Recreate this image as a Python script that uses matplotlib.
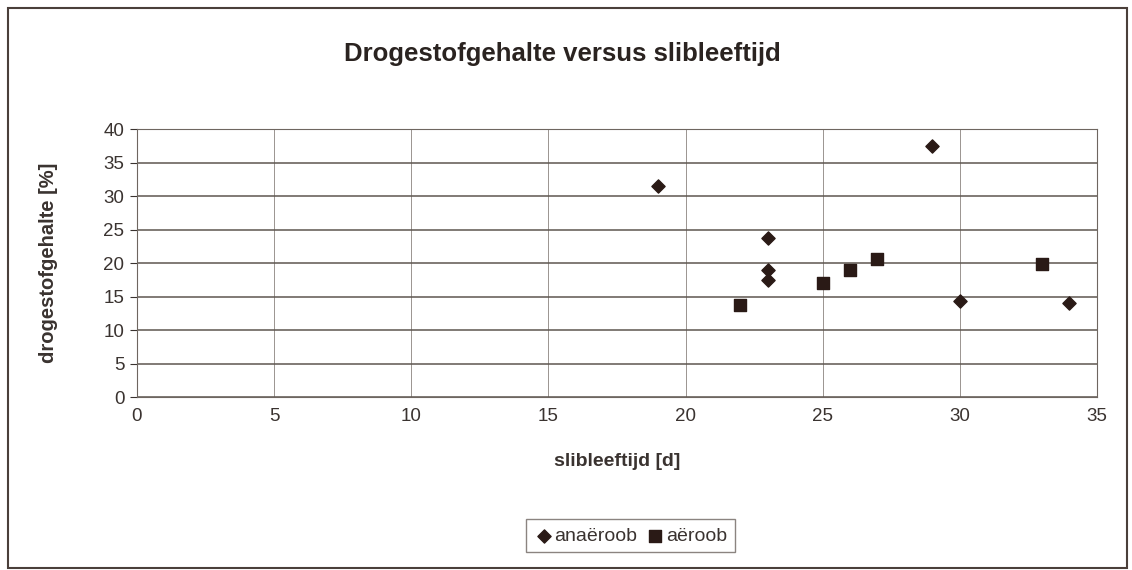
import matplotlib.pyplot as plt
from matplotlib.patches import Rectangle

# slibleeftijd [d] and drogestofgehalte [%]
anaeroob_x = [19, 23, 23, 23, 29, 30, 34]
anaeroob_y = [31.5, 23.7, 19.0, 17.4, 37.5, 14.3, 14.1]
aeroob_x = [22, 25, 26, 27, 33]
aeroob_y = [13.7, 17.0, 18.9, 20.6, 19.9]

x_ticks = list(range(0, 36, 5))
y_ticks = list(range(0, 41, 5))

plt.rcParams['font.family'] = ['Liberation Sans', 'DejaVu Sans']

fig = plt.figure(figsize=(11.32, 5.7), dpi=100)
fig.patch.set_facecolor('white')
fig.patches.append(Rectangle((0.007, 0.004), 0.989, 0.982, transform=fig.transFigure,
                             fill=False, edgecolor='#4a3f3a', linewidth=1.5))

ax = fig.add_axes([0.121, 0.3035, 0.848, 0.47])
ax.scatter(anaeroob_x, anaeroob_y, marker='D', s=45, color='#2a1a16', label='anaëroob', zorder=3)
ax.scatter(aeroob_x, aeroob_y, marker='s', s=80, color='#2a1a16', label='aëroob', zorder=3)

ax.set_xlim(0, 35)
ax.set_ylim(0, 40)
ax.set_xticks(x_ticks)
ax.set_yticks(y_ticks)
ax.grid(True, axis='y', color='#5e5650', linewidth=1.1)
ax.grid(True, axis='x', color='#8a837e', linewidth=0.6)
ax.set_axisbelow(True)
for s in ax.spines.values():
    s.set_color('#6e6660')
ax.tick_params(axis='x', length=0, pad=8, labelsize=13.5, colors='#3a3330')
ax.tick_params(axis='y', length=5, pad=4, labelsize=13.5, colors='#3a3330')

ax.set_xlabel('slibleeftijd [d]', fontsize=14, fontweight='bold', color='#3a3330', labelpad=20)
ax.set_ylabel('drogestofgehalte [%]', fontsize=14.5, fontweight='bold', color='#3a3330', labelpad=33)

fig.text(0.497, 0.905, 'Drogestofgehalte versus slibleeftijd', ha='center', va='center',
         fontsize=18.5, fontweight='bold', color='#2a2320')

leg = fig.legend(loc='center', bbox_to_anchor=(0.557, 0.06), ncol=2, fontsize=14,
                 frameon=True, fancybox=False, edgecolor='#6e6660', handletextpad=0.05,
                 columnspacing=0.4, borderpad=0.4, handlelength=1.0)
for t in leg.get_texts():
    t.set_color('#3a3330')

fig.savefig('out.png', dpi=100)
